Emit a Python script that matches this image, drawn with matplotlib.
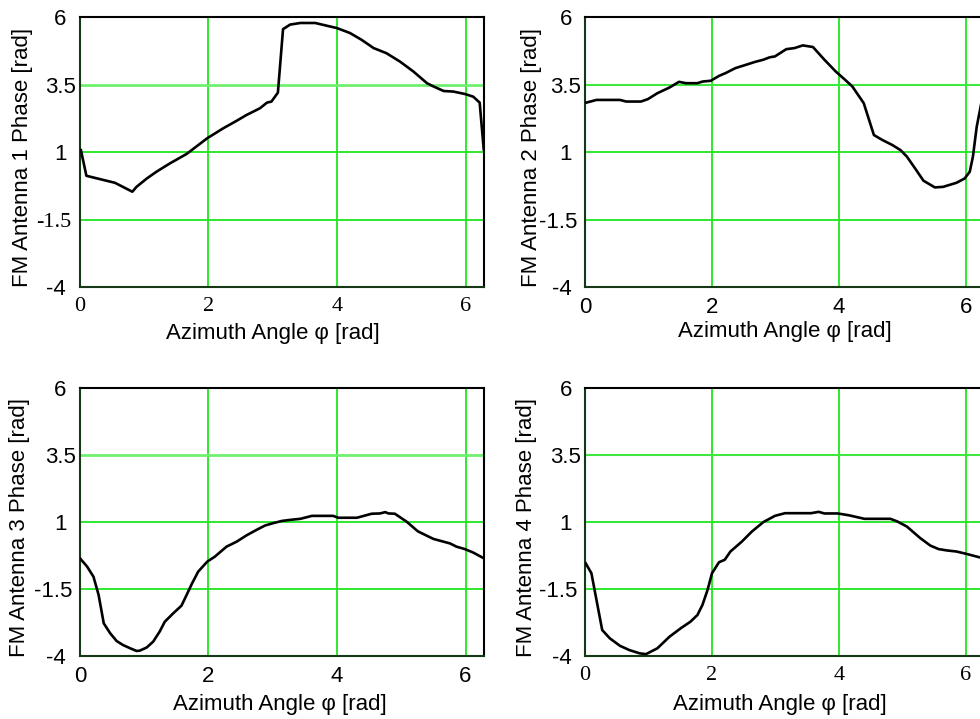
import numpy as np
import matplotlib
matplotlib.use('Agg')
import matplotlib.pyplot as plt
from matplotlib import rcParams

rcParams['font.family'] = 'sans-serif'
rcParams['font.sans-serif'] = ['Liberation Sans', 'DejaVu Sans']

# azimuth angle [rad] and phase [rad]
phi1 = [0.015, 0.10, 0.545, 0.815, 0.88, 1.04, 1.19, 1.40, 1.66, 1.98, 2.23, 2.44, 2.59,
        2.80, 2.91, 2.98, 3.08, 3.16, 3.27, 3.43, 3.66, 4.00, 4.20, 4.38, 4.57, 4.77,
        4.98, 5.19, 5.40, 5.50, 5.66, 5.81, 5.99, 6.12, 6.22, 6.283]
ph1 = [1.07, 0.12, -0.14, -0.47, -0.29, 0.02, 0.27, 0.58, 0.93, 1.51, 1.88, 2.16, 2.37,
       2.62, 2.83, 2.87, 3.20, 5.55, 5.72, 5.78, 5.78, 5.59, 5.41, 5.16, 4.85, 4.66,
       4.35, 3.98, 3.55, 3.43, 3.26, 3.24, 3.15, 3.05, 2.83, 1.10]

phi2 = [0.02, 0.18, 0.55, 0.65, 0.88, 0.99, 1.14, 1.33, 1.48, 1.59, 1.77, 1.85, 1.98,
        2.11, 2.21, 2.37, 2.52, 2.68, 2.81, 2.91, 2.99, 3.17, 3.30, 3.43, 3.59, 3.77,
        3.95, 4.08, 4.21, 4.39, 4.55, 4.68, 4.84, 4.97, 5.07, 5.20, 5.33, 5.51, 5.64,
        5.85, 5.98, 6.06, 6.11, 6.17, 6.283]
ph2 = [2.83, 2.93, 2.93, 2.87, 2.87, 2.96, 3.18, 3.39, 3.60, 3.55, 3.55, 3.61, 3.64,
       3.82, 3.92, 4.11, 4.22, 4.34, 4.42, 4.51, 4.54, 4.81, 4.85, 4.95, 4.89, 4.42,
       3.98, 3.71, 3.43, 2.81, 1.63, 1.45, 1.26, 1.07, 0.83, 0.39, -0.06, -0.31, -0.29,
       -0.14, 0.02, 0.27, 0.83, 1.94, 3.30]

phi3 = [0.01, 0.11, 0.21, 0.29, 0.37, 0.47, 0.57, 0.67, 0.78, 0.88, 0.93, 1.04, 1.14,
        1.24, 1.32, 1.45, 1.58, 1.66, 1.74, 1.84, 1.98, 2.10, 2.28, 2.44, 2.59, 2.75,
        2.88, 3.01, 3.14, 3.27, 3.43, 3.61, 3.94, 4.02, 4.31, 4.54, 4.67, 4.75, 4.80,
        4.90, 5.08, 5.26, 5.50, 5.76, 5.86, 5.99, 6.12, 6.283]
ph3 = [-0.38, -0.66, -1.04, -1.72, -2.78, -3.15, -3.44, -3.59, -3.71, -3.81, -3.80,
       -3.68, -3.46, -3.09, -2.72, -2.41, -2.12, -1.72, -1.31, -0.85, -0.48, -0.29,
       0.08, 0.27, 0.50, 0.71, 0.87, 0.96, 1.04, 1.08, 1.12, 1.23, 1.23, 1.16, 1.16,
       1.31, 1.32, 1.37, 1.32, 1.31, 1.02, 0.65, 0.37, 0.20, 0.08, -0.01, -0.14, -0.35]

phi4 = [0.01, 0.10, 0.18, 0.27, 0.39, 0.55, 0.70, 0.86, 0.96, 1.14, 1.33, 1.51, 1.66,
        1.77, 1.85, 1.93, 2.00, 2.11, 2.20, 2.29, 2.47, 2.63, 2.81, 2.99, 3.15, 3.56,
        3.68, 3.77, 3.98, 4.16, 4.40, 4.81, 4.92, 5.07, 5.28, 5.44, 5.57, 5.70, 5.85,
        6.01, 6.17, 6.283]
ph4 = [-0.54, -0.91, -1.91, -3.03, -3.34, -3.62, -3.78, -3.90, -3.93, -3.71, -3.28,
       -2.96, -2.72, -2.47, -2.09, -1.53, -0.91, -0.50, -0.41, -0.10, 0.27, 0.65, 1.00,
       1.23, 1.33, 1.33, 1.38, 1.32, 1.32, 1.25, 1.12, 1.12, 1.02, 0.83, 0.40, 0.12,
       -0.01, -0.06, -0.10, -0.19, -0.29, -0.36]

xticks = [0, 2, 4, 6]
yticks = [6, 3.5, 1, -1.5, -4]
ytick_labels = ['6', '3.5', '1', '-1.5', '-4']

phis = [phi1, phi2, phi3, phi4]
phases = [ph1, ph2, ph3, ph4]

fig = plt.figure(figsize=(9.8, 7.19), dpi=100)

# [left, bottom, width, height] -- right column runs off the figure edge
rects = [[0.0816, 0.6008, 0.412, 0.3755],
         [0.597, 0.6008, 0.407, 0.3755],
         [0.0816, 0.0876, 0.412, 0.3727],
         [0.597, 0.0876, 0.407, 0.3727]]
# ylabel x coord is the right edge of the rotated text
ylab_x = [-0.116, -0.108, -0.124, -0.121]
xlab_pos = [(0.478, -0.135), (0.501, -0.125), (0.495, -0.14), (0.489, -0.14)]
serif_x = [True, False, False, True]
ypads = [14, 14, 14, 19, 17]

for i in range(4):
    ax = fig.add_axes(rects[i])
    ax.set_xlim(0, 2 * np.pi)
    ax.set_ylim(-4, 6)

    # green grid
    for xv in [2, 4, 6]:
        ax.axvline(xv, color='#1ee61e', lw=1.3, zorder=1)
    for yv in [1, -1.5]:
        ax.axhline(yv, color='#1ee61e', lw=1.3, zorder=1)
    if i in (0, 2):
        ax.axhline(3.5, color='#6ff06f', lw=2.0, zorder=1)
    else:
        ax.axhline(3.5, color='#3ee83e', lw=1.5, zorder=1)

    ax.plot(phis[i], phases[i], color='black', lw=1.9, zorder=3)

    ax.set_xticks(xticks)
    if serif_x[i]:
        ax.set_xticklabels([str(v) for v in xticks], family='Liberation Serif', size=16)
    else:
        ax.set_xticklabels([str(v) for v in xticks], size=16)
    ax.set_yticks(yticks)
    ylabs = ax.set_yticklabels(ytick_labels, size=16, ha='center')
    if i == 0:
        ylabs[3].set_family('Liberation Serif')
    ax.tick_params(axis='x', length=0, pad=7)
    ax.tick_params(axis='y', length=0)
    for k, tick in enumerate(ax.yaxis.get_major_ticks()):
        tick.set_pad(ypads[k])

    for s in ['top', 'right']:
        ax.spines[s].set_color('black')
        ax.spines[s].set_linewidth(1.5)
    for s in ['left', 'bottom']:
        ax.spines[s].set_color('#173817')
        ax.spines[s].set_linewidth(1.5)

    ax.set_ylabel('FM Antenna ' + str(i + 1) + ' Phase [rad]', size=16)
    ax.yaxis.set_label_coords(ylab_x[i], 0.48)
    ax.set_xlabel('Azimuth Angle φ [rad]', size=16)
    ax.xaxis.set_label_coords(xlab_pos[i][0], xlab_pos[i][1])

fig.savefig('out.png', dpi=100)
